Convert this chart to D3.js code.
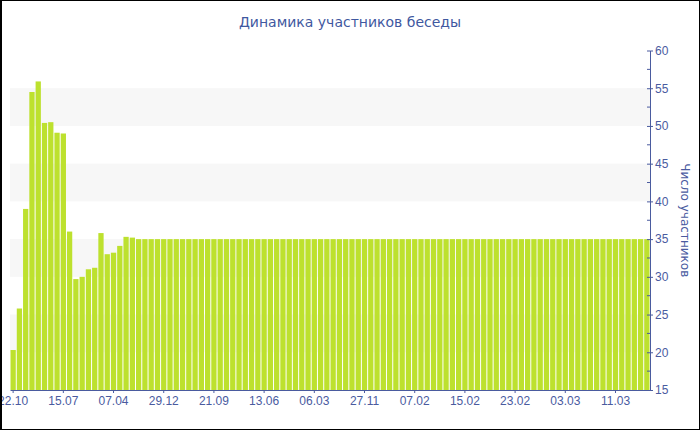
<!DOCTYPE html>
<html>
<head>
<meta charset="utf-8">
<title>Динамика участников беседы</title>
<script src="https://d3js.org/d3.v7.min.js"></script>
<style>
  body { margin: 0; padding: 0; background: #fff; }
  svg { display: block; font-family: "DejaVu Sans", Verdana, sans-serif; }
</style>
</head>
<body>
<div id="chart"></div>
<script>
// Data
const title = "Динамика участников беседы";
const yLabel = "Число участников";

// first twenty bars vary, then a long flat run at 35
const earlyValues = [20.3, 25.8, 39, 54.5, 55.9, 50.4, 50.5, 49.1, 49, 36,
                     29.7, 30, 31, 31.2, 35.8, 33, 33.2, 34.1, 35.3, 35.2];
const flatValues = [35, 35, 35, 35, 35, 35, 35, 35, 35, 35,
                    35, 35, 35, 35, 35, 35, 35, 35, 35, 35,
                    35, 35, 35, 35, 35, 35, 35, 35, 35, 35,
                    35, 35, 35, 35, 35, 35, 35, 35, 35, 35,
                    35, 35, 35, 35, 35, 35, 35, 35, 35, 35,
                    35, 35, 35, 35, 35, 35, 35, 35, 35, 35,
                    35, 35, 35, 35, 35, 35, 35, 35, 35, 35,
                    35, 35, 35, 35, 35, 35, 35, 35, 35, 35,
                    35, 35];
const values = earlyValues.concat(flatValues);

// a date label sits under every 8th bar
const tickLabels = ["22.10", "15.07", "07.04", "29.12", "21.09", "13.06", "06.03",
                    "27.11", "07.02", "15.02", "23.02", "03.03", "11.03"];
const tickEvery = 8;

const yTicks = [15, 20, 25, 30, 35, 40, 45, 50, 55, 60];
const bands = [[20, 25], [30, 35], [40, 45], [50, 55]];

// Layout
const width = 700, height = 430;
const margin = { top: 50.5, right: 50, bottom: 40, left: 10 };
const plotW = width - margin.left - margin.right;
const plotH = height - margin.top - margin.bottom;
const axisColor = "#4a5b9f";
const textColor = "#4a5b9f";

const svg = d3.select("#chart").append("svg")
  .attr("width", width)
  .attr("height", height);

const g = svg.append("g")
  .attr("transform", `translate(${margin.left},${margin.top})`);

const x = d3.scaleBand()
  .domain(d3.range(values.length))
  .range([0, plotW])
  .paddingInner(0.16)
  .paddingOuter(0.08);

const y = d3.scaleLinear()
  .domain([15, 60])
  .range([plotH, 0]);

// alternating light bands
g.append("g").selectAll("rect")
  .data(bands)
  .join("rect")
  .attr("x", 0)
  .attr("width", plotW)
  .attr("y", d => y(d[1]))
  .attr("height", d => y(d[0]) - y(d[1]))
  .attr("fill", "#f7f7f7");

// bars
g.append("g").selectAll("rect")
  .data(values)
  .join("rect")
  .attr("x", (d, i) => x(i))
  .attr("width", x.bandwidth())
  .attr("y", d => y(d))
  .attr("height", d => y(15) - y(d))
  .attr("fill", "#bde12e");

// x axis
const xAxis = d3.axisBottom(x)
  .tickValues(d3.range(0, values.length, tickEvery))
  .tickFormat(i => tickLabels[i / tickEvery])
  .tickSize(3)
  .tickPadding(3)
  .tickSizeOuter(0);

const gx = g.append("g")
  .attr("transform", `translate(0,${plotH})`)
  .call(xAxis);
gx.select(".domain").attr("stroke", axisColor);
gx.selectAll(".tick line").attr("stroke", axisColor);
gx.selectAll(".tick text")
  .attr("fill", textColor)
  .style("font-size", "12px");

// y axis on the right: minor ticks first, then the major ones
const gy = g.append("g")
  .attr("transform", `translate(${plotW},0)`);

gy.append("g").selectAll("line")
  .data(d3.range(17.5, 60, 5))
  .join("line")
  .attr("x1", -3).attr("x2", 0)
  .attr("y1", d => y(d)).attr("y2", d => y(d))
  .attr("stroke", axisColor);

const yAxis = d3.axisRight(y)
  .tickValues(yTicks)
  .tickSize(3)
  .tickPadding(2)
  .tickSizeOuter(0);
gy.call(yAxis);
gy.select(".domain").attr("stroke", axisColor);
gy.selectAll(".tick line").attr("x1", -3).attr("stroke", axisColor);
gy.selectAll(".tick text")
  .attr("fill", textColor)
  .style("font-size", "12px");

// axis title
svg.append("text")
  .attr("transform", `translate(681,${margin.top + plotH / 2}) rotate(90)`)
  .attr("text-anchor", "middle")
  .attr("fill", textColor)
  .style("font-size", "12px")
  .text(yLabel);

// chart title
svg.append("text")
  .attr("x", 350)
  .attr("y", 27)
  .attr("text-anchor", "middle")
  .attr("fill", "#3f58a0")
  .style("font-size", "14px")
  .text(title);

// frame
svg.append("rect")
  .attr("x", 0.5).attr("y", 0.5)
  .attr("width", width - 1).attr("height", height - 1)
  .attr("fill", "none")
  .attr("stroke", "#000");
svg.append("line")
  .attr("x1", 1.5).attr("x2", 1.5)
  .attr("y1", 0).attr("y2", height)
  .attr("stroke", "#000");
</script>
</body>
</html>
